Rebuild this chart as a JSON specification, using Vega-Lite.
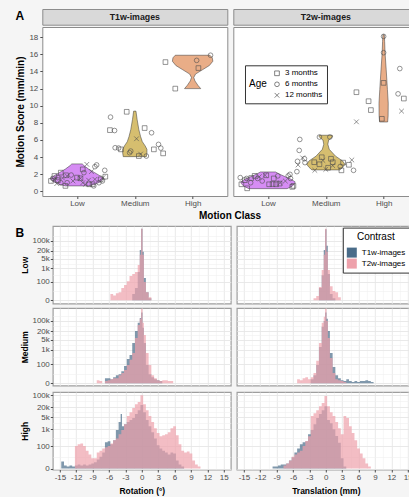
{
"$schema":"https://vega.github.io/schema/vega-lite/v6.json",
"background":"#f5f5f5",
"padding":{"left":12.3,"top":8,"right":-5,"bottom":0},
"config":{
 "font":"Liberation Sans",
 "view":{"stroke":"#8c8c8c","strokeWidth":1,"fill":"white"},
 "axis":{"labelFont":"Liberation Sans","titleFont":"Liberation Sans","labelFontSize":8,"labelColor":"#4d4d4d","tickColor":"#4d4d4d","tickSize":2.5,"labelPadding":1.5,"domain":false,"grid":false,"titleFontSize":10,"titleFontWeight":"bold","titleColor":"black","minExtent":0,"labelOverlap":false,"labelFlush":false},
 "title":{"font":"Liberation Sans","fontSize":12,"fontWeight":"bold","color":"black","anchor":"start","offset":0},
 "legend":{"labelFont":"Liberation Sans","titleFont":"Liberation Sans"}
},
"resolve":{"scale":{"color":"independent","shape":"independent"},"legend":{"color":"independent","shape":"independent"}},
"spacing":4,
"columns":1,
"datasets":{
"vio":[
{"p":"T1","k":"Low","y":0.63,"x":-0.2,"x2":0.2},{"p":"T1","k":"Low","y":0.8,"x":-0.3,"x2":0.3},{"p":"T1","k":"Low","y":1.1,"x":-0.4,"x2":0.4},{"p":"T1","k":"Low","y":1.5,"x":-0.46,"x2":0.46},{"p":"T1","k":"Low","y":1.8,"x":-0.4,"x2":0.4},{"p":"T1","k":"Low","y":2.2,"x":-0.3,"x2":0.3},{"p":"T1","k":"Low","y":2.6,"x":-0.2,"x2":0.2},{"p":"T1","k":"Low","y":3.0,"x":-0.12,"x2":0.12},{"p":"T1","k":"Low","y":3.2,"x":-0.09,"x2":0.09},
{"p":"T1","k":"Medium","y":4.05,"x":0.8,"x2":1.2},{"p":"T1","k":"Medium","y":4.5,"x":0.79,"x2":1.21},{"p":"T1","k":"Medium","y":4.9,"x":0.79,"x2":1.21},{"p":"T1","k":"Medium","y":5.3,"x":0.82,"x2":1.18},{"p":"T1","k":"Medium","y":5.8,"x":0.87,"x2":1.13},{"p":"T1","k":"Medium","y":6.4,"x":0.9,"x2":1.1},{"p":"T1","k":"Medium","y":7.2,"x":0.93,"x2":1.07},{"p":"T1","k":"Medium","y":8.4,"x":0.96,"x2":1.04},{"p":"T1","k":"Medium","y":9.37,"x":0.98,"x2":1.02},
{"p":"T1","k":"High","y":12.0,"x":1.86,"x2":2.14},{"p":"T1","k":"High","y":12.4,"x":1.91,"x2":2.09},{"p":"T1","k":"High","y":12.9,"x":1.96,"x2":2.04},{"p":"T1","k":"High","y":13.3,"x":1.98,"x2":2.02},{"p":"T1","k":"High","y":13.7,"x":1.95,"x2":2.05},{"p":"T1","k":"High","y":14.2,"x":1.83,"x2":2.17},{"p":"T1","k":"High","y":14.7,"x":1.71,"x2":2.29},{"p":"T1","k":"High","y":15.2,"x":1.65,"x2":2.35},{"p":"T1","k":"High","y":15.6,"x":1.66,"x2":2.34},{"p":"T1","k":"High","y":15.9,"x":1.7,"x2":2.3},
{"p":"T2","k":"Low","y":0.31,"x":-0.33,"x2":0.33},{"p":"T2","k":"Low","y":0.6,"x":-0.42,"x2":0.42},{"p":"T2","k":"Low","y":0.9,"x":-0.46,"x2":0.46},{"p":"T2","k":"Low","y":1.1,"x":-0.47,"x2":0.47},{"p":"T2","k":"Low","y":1.4,"x":-0.4,"x2":0.4},{"p":"T2","k":"Low","y":1.7,"x":-0.3,"x2":0.3},{"p":"T2","k":"Low","y":2.0,"x":-0.2,"x2":0.2},{"p":"T2","k":"Low","y":2.26,"x":-0.13,"x2":0.13},
{"p":"T2","k":"Medium","y":2.5,"x":0.76,"x2":1.24},{"p":"T2","k":"Medium","y":2.8,"x":0.71,"x2":1.29},{"p":"T2","k":"Medium","y":3.15,"x":0.67,"x2":1.33},{"p":"T2","k":"Medium","y":3.55,"x":0.71,"x2":1.29},{"p":"T2","k":"Medium","y":4.1,"x":0.83,"x2":1.17},{"p":"T2","k":"Medium","y":4.9,"x":0.94,"x2":1.06},{"p":"T2","k":"Medium","y":5.5,"x":0.965,"x2":1.035},{"p":"T2","k":"Medium","y":6.0,"x":0.95,"x2":1.05},{"p":"T2","k":"Medium","y":6.25,"x":0.9,"x2":1.1},{"p":"T2","k":"Medium","y":6.45,"x":0.88,"x2":1.12},{"p":"T2","k":"Medium","y":6.55,"x":0.89,"x2":1.11},
{"p":"T2","k":"High","y":8.1,"x":1.93,"x2":2.07},{"p":"T2","k":"High","y":8.8,"x":1.922,"x2":2.078},{"p":"T2","k":"High","y":10.3,"x":1.92,"x2":2.08},{"p":"T2","k":"High","y":11.9,"x":1.934,"x2":2.066},{"p":"T2","k":"High","y":14.2,"x":1.955,"x2":2.045},{"p":"T2","k":"High","y":16.2,"x":1.975,"x2":2.025},{"p":"T2","k":"High","y":17.5,"x":1.982,"x2":2.018},{"p":"T2","k":"High","y":18.3,"x":1.988,"x2":2.012}
],
"pts":[
{"p":"T1","x":-0.45,"y":1.21,"a":"3 months"},{"p":"T1","x":-0.39,"y":1.79,"a":"3 months"},{"p":"T1","x":-0.28,"y":2.18,"a":"3 months"},{"p":"T1","x":-0.19,"y":1.87,"a":"3 months"},{"p":"T1","x":-0.2,"y":0.63,"a":"3 months"},{"p":"T1","x":0.06,"y":1.52,"a":"3 months"},{"p":"T1","x":0.1,"y":2.56,"a":"3 months"},{"p":"T1","x":0.21,"y":0.82,"a":"3 months"},{"p":"T1","x":0.27,"y":0.82,"a":"3 months"},{"p":"T1","x":0.41,"y":1.4,"a":"3 months"},{"p":"T1","x":0.49,"y":1.71,"a":"3 months"},{"p":"T1","x":-0.33,"y":1.3,"a":"3 months"},{"p":"T1","x":0.0,"y":1.6,"a":"3 months"},
{"p":"T1","x":-0.28,"y":1.0,"a":"6 months"},{"p":"T1","x":-0.17,"y":1.0,"a":"6 months"},{"p":"T1","x":0.31,"y":2.88,"a":"6 months"},{"p":"T1","x":0.34,"y":3.08,"a":"6 months"},{"p":"T1","x":0.48,"y":2.45,"a":"6 months"},{"p":"T1","x":0.29,"y":0.63,"a":"6 months"},{"p":"T1","x":0.44,"y":1.21,"a":"6 months"},{"p":"T1","x":-0.33,"y":1.6,"a":"6 months"},{"p":"T1","x":0.12,"y":2.18,"a":"6 months"},{"p":"T1","x":-0.42,"y":1.5,"a":"6 months"},{"p":"T1","x":0.38,"y":1.0,"a":"6 months"},{"p":"T1","x":-0.1,"y":1.9,"a":"6 months"},
{"p":"T1","x":-0.39,"y":1.33,"a":"12 months"},{"p":"T1","x":-0.07,"y":1.21,"a":"12 months"},{"p":"T1","x":0.17,"y":3.15,"a":"12 months"},{"p":"T1","x":0.15,"y":0.82,"a":"12 months"},{"p":"T1","x":0.31,"y":1.4,"a":"12 months"},{"p":"T1","x":-0.17,"y":1.79,"a":"12 months"},{"p":"T1","x":0.06,"y":1.52,"a":"12 months"},{"p":"T1","x":0.25,"y":2.3,"a":"12 months"},{"p":"T1","x":-0.25,"y":1.55,"a":"12 months"},{"p":"T1","x":0.45,"y":1.6,"a":"12 months"},{"p":"T1","x":0.1,"y":1.0,"a":"12 months"},{"p":"T1","x":-0.35,"y":0.9,"a":"12 months"},{"p":"T1","x":0.2,"y":1.3,"a":"12 months"},
{"p":"T1","x":0.58,"y":8.67,"a":"6 months"},{"p":"T1","x":0.57,"y":7.15,"a":"3 months"},{"p":"T1","x":0.65,"y":7.1,"a":"6 months"},{"p":"T1","x":0.86,"y":9.29,"a":"3 months"},{"p":"T1","x":1.17,"y":7.39,"a":"3 months"},{"p":"T1","x":1.29,"y":6.84,"a":"6 months"},{"p":"T1","x":1.03,"y":6.14,"a":"12 months"},{"p":"T1","x":0.66,"y":5.09,"a":"6 months"},{"p":"T1","x":0.72,"y":5.05,"a":"6 months"},{"p":"T1","x":0.76,"y":4.9,"a":"3 months"},{"p":"T1","x":0.91,"y":4.51,"a":"6 months"},{"p":"T1","x":0.93,"y":4.7,"a":"6 months"},{"p":"T1","x":1.07,"y":4.12,"a":"3 months"},{"p":"T1","x":1.1,"y":4.35,"a":"12 months"},{"p":"T1","x":1.2,"y":4.12,"a":"6 months"},{"p":"T1","x":1.33,"y":4.9,"a":"3 months"},{"p":"T1","x":1.41,"y":5.48,"a":"6 months"},{"p":"T1","x":1.45,"y":5.05,"a":"6 months"},{"p":"T1","x":1.49,"y":4.43,"a":"3 months"},
{"p":"T1","x":1.53,"y":15.1,"a":"3 months"},{"p":"T1","x":1.7,"y":12.0,"a":"3 months"},{"p":"T1","x":2.07,"y":15.3,"a":"6 months"},{"p":"T1","x":2.1,"y":14.4,"a":"3 months"},{"p":"T1","x":2.31,"y":15.9,"a":"6 months"},
{"p":"T2","x":-0.46,"y":0.82,"a":"3 months"},{"p":"T2","x":-0.36,"y":0.35,"a":"3 months"},{"p":"T2","x":-0.48,"y":1.6,"a":"6 months"},{"p":"T2","x":-0.37,"y":1.5,"a":"6 months"},{"p":"T2","x":-0.29,"y":1.55,"a":"3 months"},{"p":"T2","x":-0.23,"y":1.8,"a":"3 months"},{"p":"T2","x":-0.05,"y":1.87,"a":"12 months"},{"p":"T2","x":-0.18,"y":1.5,"a":"6 months"},{"p":"T2","x":0.02,"y":0.82,"a":"3 months"},{"p":"T2","x":0.08,"y":0.85,"a":"3 months"},{"p":"T2","x":0.14,"y":0.82,"a":"3 months"},{"p":"T2","x":0.2,"y":0.9,"a":"3 months"},{"p":"T2","x":0.17,"y":1.8,"a":"6 months"},{"p":"T2","x":-0.03,"y":1.87,"a":"3 months"},{"p":"T2","x":0.44,"y":0.63,"a":"3 months"},{"p":"T2","x":0.42,"y":0.52,"a":"3 months"},{"p":"T2","x":0.35,"y":1.8,"a":"6 months"},{"p":"T2","x":0.21,"y":1.0,"a":"12 months"},{"p":"T2","x":0.39,"y":1.5,"a":"6 months"},{"p":"T2","x":0.38,"y":1.98,"a":"6 months"},{"p":"T2","x":-0.15,"y":1.7,"a":"12 months"},{"p":"T2","x":-0.4,"y":1.3,"a":"3 months"},{"p":"T2","x":-0.1,"y":1.2,"a":"6 months"},{"p":"T2","x":0.3,"y":1.2,"a":"12 months"},{"p":"T2","x":0.1,"y":1.5,"a":"3 months"},{"p":"T2","x":-0.3,"y":1.0,"a":"6 months"},
{"p":"T2","x":0.55,"y":6.06,"a":"6 months"},{"p":"T2","x":0.54,"y":4.78,"a":"6 months"},{"p":"T2","x":0.63,"y":3.81,"a":"6 months"},{"p":"T2","x":0.51,"y":3.5,"a":"6 months"},{"p":"T2","x":0.52,"y":3.08,"a":"12 months"},{"p":"T2","x":0.5,"y":2.3,"a":"6 months"},{"p":"T2","x":0.89,"y":6.34,"a":"6 months"},{"p":"T2","x":1.07,"y":6.34,"a":"6 months"},{"p":"T2","x":1.45,"y":3.66,"a":"12 months"},{"p":"T2","x":1.27,"y":2.45,"a":"3 months"},{"p":"T2","x":1.48,"y":2.45,"a":"6 months"},{"p":"T2","x":0.81,"y":2.45,"a":"12 months"},{"p":"T2","x":0.93,"y":3.98,"a":"3 months"},{"p":"T2","x":0.89,"y":3.16,"a":"3 months"},{"p":"T2","x":0.95,"y":3.6,"a":"12 months"},{"p":"T2","x":1.09,"y":3.8,"a":"3 months"},{"p":"T2","x":1.12,"y":3.0,"a":"12 months"},{"p":"T2","x":1.04,"y":2.75,"a":"3 months"},{"p":"T2","x":1.0,"y":2.56,"a":"12 months"},{"p":"T2","x":0.8,"y":3.4,"a":"3 months"},{"p":"T2","x":1.12,"y":3.4,"a":"3 months"},{"p":"T2","x":1.3,"y":3.35,"a":"3 months"},{"p":"T2","x":0.64,"y":3.35,"a":"6 months"},{"p":"T2","x":0.6,"y":3.9,"a":"12 months"},{"p":"T2","x":1.25,"y":2.9,"a":"6 months"},{"p":"T2","x":1.4,"y":3.1,"a":"3 months"},
{"p":"T2","x":2.0,"y":16.2,"a":"6 months"},{"p":"T2","x":2.0,"y":12.67,"a":"3 months"},{"p":"T2","x":1.97,"y":8.47,"a":"3 months"},{"p":"T2","x":1.53,"y":11.58,"a":"3 months"},{"p":"T2","x":1.74,"y":10.53,"a":"3 months"},{"p":"T2","x":1.78,"y":9.49,"a":"3 months"},{"p":"T2","x":1.53,"y":8.12,"a":"12 months"},{"p":"T2","x":2.28,"y":14.34,"a":"6 months"},{"p":"T2","x":2.25,"y":11.39,"a":"6 months"},{"p":"T2","x":2.35,"y":10.84,"a":"3 months"},{"p":"T2","x":2.31,"y":9.37,"a":"12 months"},{"p":"T2","x":2.0,"y":18.1,"a":"6 months"}
],
"nlab":[
{"p":"T1","x":0,"t":"n=38"},{"p":"T1","x":1,"t":"n=19"},{"p":"T1","x":2,"t":"n=5"},
{"p":"T2","x":0,"t":"n=26"},{"p":"T2","x":1,"t":"n=26"},{"p":"T2","x":2,"t":"n=12"}
],
"LR":[
{"c":"T1w-images","x":-2,"n":0},{"c":"T1w-images","x":-1.5,"n":9},{"c":"T1w-images","x":-1,"n":33},{"c":"T1w-images","x":-0.5,"n":550},{"c":"T1w-images","x":-0.25,"n":22000},{"c":"T1w-images","x":0,"n":750000},{"c":"T1w-images","x":0.25,"n":16000},{"c":"T1w-images","x":0.5,"n":200},{"c":"T1w-images","x":1,"n":14},{"c":"T1w-images","x":1.5,"n":2},{"c":"T1w-images","x":2,"n":0},
{"c":"T2w-images","x":-6,"n":0},{"c":"T2w-images","x":-5.5,"n":9},{"c":"T2w-images","x":-5,"n":6},{"c":"T2w-images","x":-4.5,"n":11},{"c":"T2w-images","x":-4,"n":14},{"c":"T2w-images","x":-3.5,"n":33},{"c":"T2w-images","x":-3,"n":57},{"c":"T2w-images","x":-2.5,"n":115},{"c":"T2w-images","x":-2,"n":276},{"c":"T2w-images","x":-1.5,"n":390},{"c":"T2w-images","x":-1,"n":546},{"c":"T2w-images","x":-0.5,"n":1800},{"c":"T2w-images","x":-0.25,"n":10000},{"c":"T2w-images","x":0,"n":750000},{"c":"T2w-images","x":0.25,"n":10000},{"c":"T2w-images","x":0.5,"n":98},{"c":"T2w-images","x":1,"n":14},{"c":"T2w-images","x":1.5,"n":3},{"c":"T2w-images","x":2,"n":0}
],
"LT":[
{"c":"T1w-images","x":-1.5,"n":0},{"c":"T1w-images","x":-1,"n":33},{"c":"T1w-images","x":-0.5,"n":320},{"c":"T1w-images","x":-0.25,"n":22000},{"c":"T1w-images","x":0,"n":700000},{"c":"T1w-images","x":0.25,"n":44000},{"c":"T1w-images","x":0.5,"n":390},{"c":"T1w-images","x":1,"n":9},{"c":"T1w-images","x":1.5,"n":2},{"c":"T1w-images","x":2,"n":0},
{"c":"T2w-images","x":-2.5,"n":0},{"c":"T2w-images","x":-2,"n":2},{"c":"T2w-images","x":-1.5,"n":5},{"c":"T2w-images","x":-1,"n":40},{"c":"T2w-images","x":-0.5,"n":770},{"c":"T2w-images","x":-0.25,"n":10000},{"c":"T2w-images","x":0,"n":750000},{"c":"T2w-images","x":0.25,"n":16000},{"c":"T2w-images","x":0.5,"n":770},{"c":"T2w-images","x":1,"n":47},{"c":"T2w-images","x":1.5,"n":18},{"c":"T2w-images","x":2,"n":14},{"c":"T2w-images","x":2.5,"n":3},{"c":"T2w-images","x":3,"n":0}
],
"MR":[
{"c":"T1w-images","x":-7,"n":0},{"c":"T1w-images","x":-6.5,"n":6},{"c":"T1w-images","x":-6,"n":6},{"c":"T1w-images","x":-5.5,"n":4.5},{"c":"T1w-images","x":-5,"n":8},{"c":"T1w-images","x":-4.5,"n":13},{"c":"T1w-images","x":-4,"n":16},{"c":"T1w-images","x":-3.5,"n":29},{"c":"T1w-images","x":-3,"n":72},{"c":"T1w-images","x":-2.5,"n":227},{"c":"T1w-images","x":-2,"n":435},{"c":"T1w-images","x":-1.5,"n":3000},{"c":"T1w-images","x":-1,"n":20000},{"c":"T1w-images","x":-0.5,"n":73000},{"c":"T1w-images","x":-0.25,"n":160000},{"c":"T1w-images","x":0,"n":375000},{"c":"T1w-images","x":0.25,"n":33000},{"c":"T1w-images","x":0.5,"n":3000},{"c":"T1w-images","x":1,"n":85},{"c":"T1w-images","x":1.5,"n":16},{"c":"T1w-images","x":2,"n":8},{"c":"T1w-images","x":2.5,"n":4.5},{"c":"T1w-images","x":3,"n":3},{"c":"T1w-images","x":3.5,"n":2},{"c":"T1w-images","x":4,"n":0},
{"c":"T2w-images","x":-8.5,"n":0},{"c":"T2w-images","x":-8,"n":3},{"c":"T2w-images","x":-7.5,"n":2},{"c":"T2w-images","x":-7,"n":0},{"c":"T2w-images","x":-6.5,"n":2},{"c":"T2w-images","x":-6,"n":3},{"c":"T2w-images","x":-5.5,"n":4.5},{"c":"T2w-images","x":-5,"n":6},{"c":"T2w-images","x":-4.5,"n":6},{"c":"T2w-images","x":-4,"n":13},{"c":"T2w-images","x":-3.5,"n":20},{"c":"T2w-images","x":-3,"n":35},{"c":"T2w-images","x":-2.5,"n":85},{"c":"T2w-images","x":-2,"n":200},{"c":"T2w-images","x":-1.5,"n":600},{"c":"T2w-images","x":-1,"n":6500},{"c":"T2w-images","x":-0.5,"n":53000},{"c":"T2w-images","x":-0.25,"n":139000},{"c":"T2w-images","x":0,"n":690000},{"c":"T2w-images","x":0.25,"n":73000},{"c":"T2w-images","x":0.5,"n":10800},{"c":"T2w-images","x":1,"n":600},{"c":"T2w-images","x":1.5,"n":85},{"c":"T2w-images","x":2,"n":13},{"c":"T2w-images","x":2.5,"n":6},{"c":"T2w-images","x":3,"n":3},{"c":"T2w-images","x":3.5,"n":2},{"c":"T2w-images","x":4,"n":3},{"c":"T2w-images","x":4.5,"n":3},{"c":"T2w-images","x":5,"n":2},{"c":"T2w-images","x":5.5,"n":2},{"c":"T2w-images","x":6,"n":0}
],
"MT":[
{"c":"T1w-images","x":-3,"n":0},{"c":"T1w-images","x":-2.5,"n":4.5},{"c":"T1w-images","x":-2,"n":13},{"c":"T1w-images","x":-1.5,"n":85},{"c":"T1w-images","x":-1,"n":1580},{"c":"T1w-images","x":-0.5,"n":39000},{"c":"T1w-images","x":-0.25,"n":100000},{"c":"T1w-images","x":0,"n":375000},{"c":"T1w-images","x":0.25,"n":139000},{"c":"T1w-images","x":0.5,"n":20000},{"c":"T1w-images","x":1,"n":600},{"c":"T1w-images","x":1.5,"n":60},{"c":"T1w-images","x":2,"n":13},{"c":"T1w-images","x":2.5,"n":6},{"c":"T1w-images","x":3,"n":3},{"c":"T1w-images","x":3.5,"n":2},{"c":"T1w-images","x":4,"n":4.5},{"c":"T1w-images","x":4.5,"n":2},{"c":"T1w-images","x":5,"n":1},{"c":"T1w-images","x":5.5,"n":2},{"c":"T1w-images","x":6,"n":1},{"c":"T1w-images","x":6.5,"n":2},{"c":"T1w-images","x":7,"n":2},{"c":"T1w-images","x":7.5,"n":3},{"c":"T1w-images","x":8,"n":2},{"c":"T1w-images","x":8.5,"n":1},{"c":"T1w-images","x":9,"n":0},
{"c":"T2w-images","x":-5.5,"n":0},{"c":"T2w-images","x":-5,"n":4.5},{"c":"T2w-images","x":-4.5,"n":3},{"c":"T2w-images","x":-4,"n":6},{"c":"T2w-images","x":-3.5,"n":8},{"c":"T2w-images","x":-3,"n":4.5},{"c":"T2w-images","x":-2.5,"n":8},{"c":"T2w-images","x":-2,"n":20},{"c":"T2w-images","x":-1.5,"n":170},{"c":"T2w-images","x":-1,"n":3000},{"c":"T2w-images","x":-0.5,"n":73000},{"c":"T2w-images","x":-0.25,"n":190000},{"c":"T2w-images","x":0,"n":690000},{"c":"T2w-images","x":0.25,"n":100000},{"c":"T2w-images","x":0.5,"n":6500},{"c":"T2w-images","x":1,"n":270},{"c":"T2w-images","x":1.5,"n":20},{"c":"T2w-images","x":2,"n":4.5},{"c":"T2w-images","x":2.5,"n":3},{"c":"T2w-images","x":3,"n":2},{"c":"T2w-images","x":3.5,"n":1},{"c":"T2w-images","x":4,"n":0}
],
"HR":[
{"c":"T1w-images","x":-15,"n":0},{"c":"T1w-images","x":-14.5,"n":8},{"c":"T1w-images","x":-14,"n":2.5},{"c":"T1w-images","x":-13.5,"n":1.5},{"c":"T1w-images","x":-13,"n":2.5},{"c":"T1w-images","x":-12.5,"n":1.5},{"c":"T1w-images","x":-12,"n":2.5},{"c":"T1w-images","x":-11.5,"n":3.6},{"c":"T1w-images","x":-11,"n":2.5},{"c":"T1w-images","x":-10.5,"n":3.6},{"c":"T1w-images","x":-10,"n":2.5},{"c":"T1w-images","x":-9.5,"n":3.6},{"c":"T1w-images","x":-9,"n":5},{"c":"T1w-images","x":-8.5,"n":6.5},{"c":"T1w-images","x":-8,"n":12},{"c":"T1w-images","x":-7.5,"n":20},{"c":"T1w-images","x":-7,"n":39},{"c":"T1w-images","x":-6.5,"n":170},{"c":"T1w-images","x":-6,"n":195},{"c":"T1w-images","x":-5.5,"n":127},{"c":"T1w-images","x":-5,"n":222},{"c":"T1w-images","x":-4.5,"n":900},{"c":"T1w-images","x":-4,"n":2700},{"c":"T1w-images","x":-3.75,"n":8000},{"c":"T1w-images","x":-3.5,"n":1500},{"c":"T1w-images","x":-3,"n":2000},{"c":"T1w-images","x":-2.5,"n":2700},{"c":"T1w-images","x":-2,"n":3500},{"c":"T1w-images","x":-1.5,"n":4600},{"c":"T1w-images","x":-1,"n":8000},{"c":"T1w-images","x":-0.5,"n":13500},{"c":"T1w-images","x":0,"n":27000},{"c":"T1w-images","x":0.5,"n":10000},{"c":"T1w-images","x":1,"n":3500},{"c":"T1w-images","x":1.5,"n":1500},{"c":"T1w-images","x":2,"n":675},{"c":"T1w-images","x":2.5,"n":290},{"c":"T1w-images","x":3,"n":110},{"c":"T1w-images","x":3.5,"n":71},{"c":"T1w-images","x":4,"n":50},{"c":"T1w-images","x":4.5,"n":39},{"c":"T1w-images","x":5,"n":28},{"c":"T1w-images","x":5.5,"n":39},{"c":"T1w-images","x":6,"n":33},{"c":"T1w-images","x":6.5,"n":10},{"c":"T1w-images","x":7,"n":3.6},{"c":"T1w-images","x":7.5,"n":1.5},{"c":"T1w-images","x":8,"n":0},
{"c":"T2w-images","x":-12.5,"n":0},{"c":"T2w-images","x":-12,"n":100},{"c":"T2w-images","x":-11.5,"n":127},{"c":"T2w-images","x":-11,"n":145},{"c":"T2w-images","x":-10.5,"n":100},{"c":"T2w-images","x":-10,"n":50},{"c":"T2w-images","x":-9.5,"n":28},{"c":"T2w-images","x":-9,"n":15},{"c":"T2w-images","x":-8.5,"n":15},{"c":"T2w-images","x":-8,"n":39},{"c":"T2w-images","x":-7.5,"n":50},{"c":"T2w-images","x":-7,"n":71},{"c":"T2w-images","x":-6.5,"n":85},{"c":"T2w-images","x":-6,"n":100},{"c":"T2w-images","x":-5.5,"n":145},{"c":"T2w-images","x":-5,"n":222},{"c":"T2w-images","x":-4.5,"n":290},{"c":"T2w-images","x":-4,"n":510},{"c":"T2w-images","x":-3.5,"n":900},{"c":"T2w-images","x":-3,"n":2000},{"c":"T2w-images","x":-2.5,"n":6000},{"c":"T2w-images","x":-2,"n":10000},{"c":"T2w-images","x":-1.5,"n":17800},{"c":"T2w-images","x":-1,"n":30000},{"c":"T2w-images","x":-0.5,"n":40000},{"c":"T2w-images","x":0,"n":100000},{"c":"T2w-images","x":0.5,"n":30000},{"c":"T2w-images","x":1,"n":13500},{"c":"T2w-images","x":1.5,"n":6000},{"c":"T2w-images","x":2,"n":2700},{"c":"T2w-images","x":2.5,"n":1160},{"c":"T2w-images","x":3,"n":600},{"c":"T2w-images","x":3.5,"n":386},{"c":"T2w-images","x":4,"n":440},{"c":"T2w-images","x":4.5,"n":510},{"c":"T2w-images","x":5,"n":675},{"c":"T2w-images","x":5.5,"n":1160},{"c":"T2w-images","x":6,"n":1500},{"c":"T2w-images","x":6.5,"n":440},{"c":"T2w-images","x":7,"n":127},{"c":"T2w-images","x":7.5,"n":50},{"c":"T2w-images","x":8,"n":39},{"c":"T2w-images","x":8.5,"n":45},{"c":"T2w-images","x":9,"n":33},{"c":"T2w-images","x":9.5,"n":10},{"c":"T2w-images","x":10,"n":3.6},{"c":"T2w-images","x":10.5,"n":1.5},{"c":"T2w-images","x":11,"n":0}
],
"HT":[
{"c":"T1w-images","x":-10,"n":0},{"c":"T1w-images","x":-9.5,"n":1.5},{"c":"T1w-images","x":-9,"n":1.5},{"c":"T1w-images","x":-8.5,"n":2.5},{"c":"T1w-images","x":-8,"n":3.6},{"c":"T1w-images","x":-7.5,"n":3.6},{"c":"T1w-images","x":-7,"n":5},{"c":"T1w-images","x":-6.5,"n":10},{"c":"T1w-images","x":-6,"n":18},{"c":"T1w-images","x":-5.5,"n":39},{"c":"T1w-images","x":-5,"n":71},{"c":"T1w-images","x":-4.5,"n":127},{"c":"T1w-images","x":-4,"n":170},{"c":"T1w-images","x":-3.5,"n":195},{"c":"T1w-images","x":-3,"n":510},{"c":"T1w-images","x":-2.5,"n":900},{"c":"T1w-images","x":-2,"n":2000},{"c":"T1w-images","x":-1.5,"n":4600},{"c":"T1w-images","x":-1,"n":8000},{"c":"T1w-images","x":-0.5,"n":13500},{"c":"T1w-images","x":0,"n":23000},{"c":"T1w-images","x":0.5,"n":3500},{"c":"T1w-images","x":1,"n":2300},{"c":"T1w-images","x":1.5,"n":1000},{"c":"T1w-images","x":2,"n":400},{"c":"T1w-images","x":2.5,"n":160},{"c":"T1w-images","x":3,"n":15},{"c":"T1w-images","x":3.5,"n":1.5},{"c":"T1w-images","x":4,"n":0},
{"c":"T2w-images","x":-8,"n":0},{"c":"T2w-images","x":-7.5,"n":2.5},{"c":"T2w-images","x":-7,"n":5},{"c":"T2w-images","x":-6.5,"n":10},{"c":"T2w-images","x":-6,"n":20},{"c":"T2w-images","x":-5.5,"n":28},{"c":"T2w-images","x":-5,"n":39},{"c":"T2w-images","x":-4.5,"n":50},{"c":"T2w-images","x":-4,"n":100},{"c":"T2w-images","x":-3.5,"n":200},{"c":"T2w-images","x":-3,"n":386},{"c":"T2w-images","x":-2.5,"n":6000},{"c":"T2w-images","x":-2,"n":9000},{"c":"T2w-images","x":-1.5,"n":13500},{"c":"T2w-images","x":-1,"n":23000},{"c":"T2w-images","x":-0.5,"n":35000},{"c":"T2w-images","x":0,"n":91000},{"c":"T2w-images","x":0.5,"n":23000},{"c":"T2w-images","x":1,"n":10000},{"c":"T2w-images","x":1.5,"n":6000},{"c":"T2w-images","x":2,"n":2700},{"c":"T2w-images","x":2.5,"n":1160},{"c":"T2w-images","x":3,"n":510},{"c":"T2w-images","x":3.5,"n":6000},{"c":"T2w-images","x":4,"n":4600},{"c":"T2w-images","x":4.5,"n":1500},{"c":"T2w-images","x":5,"n":600},{"c":"T2w-images","x":5.5,"n":222},{"c":"T2w-images","x":6,"n":71},{"c":"T2w-images","x":6.5,"n":33},{"c":"T2w-images","x":7,"n":15},{"c":"T2w-images","x":7.5,"n":5},{"c":"T2w-images","x":8,"n":1.5},{"c":"T2w-images","x":8.5,"n":0}
]
},
"concat":[
{
 "title":{"text":"A","baseline":"top","dx":2.7,"offset":-14.5},
 "spacing":0,
 "resolve":{"scale":{"color":"independent","shape":"independent"},"legend":{"color":"independent","shape":"independent"}},
 "hconcat":[
 {"width":1,"height":1,"data":{"values":[]},"mark":"point","view":{"stroke":"transparent","fill":"transparent"}},
 {
  "title":{"text":"Motion Class","orient":"bottom","anchor":"middle","fontSize":10,"offset":3,"dx":13},
  "spacing":4,
  "resolve":{"scale":{"color":"independent","shape":"independent"},"legend":{"color":"independent","shape":"independent"}},
  "hconcat":[
   {"spacing":0,
    "resolve":{"scale":{"color":"independent","shape":"independent"},"legend":{"color":"independent","shape":"independent"}},
    "vconcat":[
     {"width":185,"height":15.7,"data":{"values":[{"s":"T1w-images"}]},"mark":{"type":"text","fontSize":8.8,"fontWeight":"bold","baseline":"middle","color":"#1a1a1a"},"encoding":{"text":{"field":"s"}},"view":{"fill":"#d9d9d9","stroke":"#8c8c8c"}},
     {"width":185,"height":169,
      "encoding":{
       "x":{"field":"x","type":"quantitative","scale":{"domain":[-0.6,2.6],"nice":false,"zero":false},"axis":{"values":[0,1,2],"labelExpr":"['Low','Medium','High'][datum.value]","title":null,"labelPadding":1}},
       "y":{"field":"y","type":"quantitative","scale":{"domain":[-0.55,19.2],"nice":false,"zero":false},"axis":{"values":[0,2,4,6,8,10,12,14,16,18],"title":"Motion Score (mm/min)","titlePadding":3,"labelPadding":2}}
      },
      "layer":[
       {"data":{"name":"vio"},"transform":[{"filter":"datum.p=='T1'"}],"mark":{"type":"area","orient":"horizontal","stroke":"#333","strokeWidth":0.5},
        "encoding":{"x2":{"field":"x2"},"color":{"field":"k","type":"nominal","scale":{"domain":["Low","Medium","High"],"range":["#d68cf4","#d6be6f","#e9ad87"]},"legend":null}}},
       {"data":{"name":"pts"},"transform":[{"filter":"datum.p=='T1'"}],"mark":{"type":"point","filled":false,"color":"#4d4d4d","strokeWidth":0.6,"size":22,"opacity":1},
        "encoding":{"shape":{"field":"a","type":"nominal","scale":{"domain":["3 months","6 months","12 months"],"range":["square","circle","M-1,-1L1,1M-1,1L1,-1"]},"legend":null}}},
       {"data":{"name":"nlab"},"transform":[{"filter":"datum.p=='T1'"}],"mark":{"type":"text","fontWeight":"bold","fontSize":9,"dx":17,"baseline":"middle","color":"black"},
        "encoding":{"y":{"datum":18.3},"text":{"field":"t"}}}
      ]}
    ]},
   {"spacing":0,
    "resolve":{"scale":{"color":"independent","shape":"independent"},"legend":{"color":"independent","shape":"independent"}},
    "vconcat":[
     {"width":185,"height":15.7,"data":{"values":[{"s":"T2w-images"}]},"mark":{"type":"text","fontSize":8.8,"fontWeight":"bold","baseline":"middle","color":"#1a1a1a"},"encoding":{"text":{"field":"s"}},"view":{"fill":"#d9d9d9","stroke":"#8c8c8c"}},
     {"width":185,"height":169,
      "encoding":{
       "x":{"field":"x","type":"quantitative","scale":{"domain":[-0.6,2.6],"nice":false,"zero":false},"axis":{"values":[0,1,2],"labelExpr":"['Low','Medium','High'][datum.value]","title":null,"labelPadding":1}},
       "y":{"field":"y","type":"quantitative","scale":{"domain":[-0.55,19.2],"nice":false,"zero":false},"axis":null}
      },
      "layer":[
       {"data":{"name":"vio"},"transform":[{"filter":"datum.p=='T2'"}],"mark":{"type":"area","orient":"horizontal","stroke":"#333","strokeWidth":0.5},
        "encoding":{"x2":{"field":"x2"},"color":{"field":"k","type":"nominal","scale":{"domain":["Low","Medium","High"],"range":["#d68cf4","#d6be6f","#e9ad87"]},"legend":null}}},
       {"data":{"name":"pts"},"transform":[{"filter":"datum.p=='T2'"}],"mark":{"type":"point","filled":false,"color":"#4d4d4d","strokeWidth":0.6,"size":22,"opacity":1},
        "encoding":{"shape":{"field":"a","type":"nominal","scale":{"domain":["3 months","6 months","12 months"],"range":["square","circle","M-1,-1L1,1M-1,1L1,-1"]},
         "legend":{"orient":"none","legendX":11.7,"legendY":38.3,"title":"Age","titleOrient":"left","titleAnchor":"middle","titleBaseline":"middle","titleFontSize":10,"titleFontWeight":"normal","titleColor":"black","titlePadding":6,"labelFontSize":8,"labelColor":"black","labelOffset":4,"strokeColor":"#333","fillColor":"white","padding":4,"rowPadding":3,"symbolSize":22,"symbolStrokeWidth":0.7}}}},
       {"data":{"name":"nlab"},"transform":[{"filter":"datum.p=='T2'"}],"mark":{"type":"text","fontWeight":"bold","fontSize":9,"dx":17,"baseline":"middle","color":"black"},
        "encoding":{"y":{"datum":18.3},"text":{"field":"t"}}}
      ]}
    ]}
  ]
 }]
},
{
 "title":{"text":"B","baseline":"top","dx":2.7,"offset":-14.3},
 "spacing":4.5,
 "resolve":{"scale":{"color":"independent","shape":"independent"},"legend":{"color":"independent","shape":"independent"}},
 "hconcat":[
 {"width":1,"height":1,"data":{"values":[]},"mark":"point","view":{"stroke":"transparent","fill":"transparent"}},
 {
 "spacing":2,
 "resolve":{"scale":{"color":"independent"},"legend":{"color":"independent"}},
 "vconcat":[
  {"spacing":4,"resolve":{"scale":{"color":"independent"},"legend":{"color":"independent"}},
   "hconcat":[
    {"width":178,"height":77.5,"data":{"name":"LR"},"mark":{"type":"area","interpolate":"step","opacity":0.7},"view":{"stroke":"#9e9e9e","strokeWidth":1.2},
     "encoding":{
      "x":{"field":"x","type":"quantitative","scale":{"domain":[-16.3,16.3],"nice":false,"zero":false},"axis":{"values":[-15,-13.5,-12,-10.5,-9,-7.5,-6,-4.5,-3,-1.5,0,1.5,3,4.5,6,7.5,9,10.5,12,13.5,15],"labels":false,"ticks":false,"title":null,"grid":true,"gridColor":{"condition":{"test":"datum.value % 3 == 0","value":"#e6e6e6"},"value":"#f0f0f0"},"gridWidth":{"condition":{"test":"datum.value % 3 == 0","value":0.9},"value":0.6}}},
      "y":{"field":"n","type":"quantitative","stack":null,"scale":{"type":"symlog","constant":5,"domain":[-3.7,1200000],"nice":false,"zero":false},"axis":{"values":[0,17.9,100,320,1000,2237,5000,10000,20000,44760,100000,223000],"labelExpr":"datum.value==0?'0':datum.value==100?'100':datum.value==1000?'1k':datum.value==5000?'5k':datum.value==20000?'20k':datum.value==100000?'100k':''","tickOpacity":{"condition":{"test":"indexof([0,100,1000,5000,20000,100000], datum.value) >= 0","value":1},"value":0},"title":"Low","titleFontSize":8.5,"titlePadding":2.5,"labelPadding":1,"grid":true,"gridColor":{"condition":{"test":"indexof([0,100,1000,5000,20000,100000], datum.value) >= 0","value":"#e6e6e6"},"value":"#f0f0f0"},"gridWidth":{"condition":{"test":"indexof([0,100,1000,5000,20000,100000], datum.value) >= 0","value":0.9},"value":0.6}}},
      "y2":{"datum":0},
      "color":{"field":"c","type":"nominal","scale":{"domain":["T1w-images","T2w-images"],"range":["#4a6c89","#eea1ab"]},"legend":null}
     }},
    {"width":178,"height":77.5,"data":{"name":"LT"},"mark":{"type":"area","interpolate":"step","opacity":0.7},"view":{"stroke":"#9e9e9e","strokeWidth":1.2},
     "encoding":{
      "x":{"field":"x","type":"quantitative","scale":{"domain":[-16.3,16.3],"nice":false,"zero":false},"axis":{"values":[-15,-13.5,-12,-10.5,-9,-7.5,-6,-4.5,-3,-1.5,0,1.5,3,4.5,6,7.5,9,10.5,12,13.5,15],"labels":false,"ticks":false,"title":null,"grid":true,"gridColor":{"condition":{"test":"datum.value % 3 == 0","value":"#e6e6e6"},"value":"#f0f0f0"},"gridWidth":{"condition":{"test":"datum.value % 3 == 0","value":0.9},"value":0.6}}},
      "y":{"field":"n","type":"quantitative","stack":null,"scale":{"type":"symlog","constant":5,"domain":[-3.7,1200000],"nice":false,"zero":false},"axis":{"values":[0,17.9,100,320,1000,2237,5000,10000,20000,44760,100000,223000],"labels":false,"ticks":false,"title":null,"grid":true,"gridColor":{"condition":{"test":"indexof([0,100,1000,5000,20000,100000], datum.value) >= 0","value":"#e6e6e6"},"value":"#f0f0f0"},"gridWidth":{"condition":{"test":"indexof([0,100,1000,5000,20000,100000], datum.value) >= 0","value":0.9},"value":0.6}}},
      "y2":{"datum":0},
      "color":{"field":"c","type":"nominal","scale":{"domain":["T1w-images","T2w-images"],"range":["#4a6c89","#eea1ab"]},
       "legend":{"orient":"none","legendX":106,"legendY":1.6,"title":"Contrast","titleFontSize":10,"titleFontWeight":"normal","titleColor":"black","titleAnchor":"middle","titlePadding":6,"labelFontSize":8,"labelColor":"black","labelOffset":5,"symbolType":"square","symbolSize":100,"symbolOpacity":1,"symbolStrokeWidth":0,"strokeColor":"#333","fillColor":"white","padding":4,"rowPadding":1}}
     }}
   ]},
  {"spacing":4,"resolve":{"scale":{"color":"independent"},"legend":{"color":"independent"}},
   "hconcat":[
    {"width":178,"height":77.5,"data":{"name":"MR"},"mark":{"type":"area","interpolate":"step","opacity":0.7},"view":{"stroke":"#9e9e9e","strokeWidth":1.2},
     "encoding":{
      "x":{"field":"x","type":"quantitative","scale":{"domain":[-16.3,16.3],"nice":false,"zero":false},"axis":{"values":[-15,-13.5,-12,-10.5,-9,-7.5,-6,-4.5,-3,-1.5,0,1.5,3,4.5,6,7.5,9,10.5,12,13.5,15],"labels":false,"ticks":false,"title":null,"grid":true,"gridColor":{"condition":{"test":"datum.value % 3 == 0","value":"#e6e6e6"},"value":"#f0f0f0"},"gridWidth":{"condition":{"test":"datum.value % 3 == 0","value":0.9},"value":0.6}}},
      "y":{"field":"n","type":"quantitative","stack":null,"scale":{"type":"symlog","constant":5,"domain":[-2.2,775000],"nice":false,"zero":false},"axis":{"values":[0,17.9,100,320,1000,2237,5000,10000,20000,44760,100000,223000],"labelExpr":"datum.value==0?'0':datum.value==100?'100':datum.value==1000?'1k':datum.value==5000?'5k':datum.value==20000?'20k':datum.value==100000?'100k':''","tickOpacity":{"condition":{"test":"indexof([0,100,1000,5000,20000,100000], datum.value) >= 0","value":1},"value":0},"title":"Medium","titleFontSize":8.5,"titlePadding":2.5,"labelPadding":1,"grid":true,"gridColor":{"condition":{"test":"indexof([0,100,1000,5000,20000,100000], datum.value) >= 0","value":"#e6e6e6"},"value":"#f0f0f0"},"gridWidth":{"condition":{"test":"indexof([0,100,1000,5000,20000,100000], datum.value) >= 0","value":0.9},"value":0.6}}},
      "y2":{"datum":0},
      "color":{"field":"c","type":"nominal","scale":{"domain":["T1w-images","T2w-images"],"range":["#4a6c89","#eea1ab"]},"legend":null}
     }},
    {"width":178,"height":77.5,"data":{"name":"MT"},"mark":{"type":"area","interpolate":"step","opacity":0.7},"view":{"stroke":"#9e9e9e","strokeWidth":1.2},
     "encoding":{
      "x":{"field":"x","type":"quantitative","scale":{"domain":[-16.3,16.3],"nice":false,"zero":false},"axis":{"values":[-15,-13.5,-12,-10.5,-9,-7.5,-6,-4.5,-3,-1.5,0,1.5,3,4.5,6,7.5,9,10.5,12,13.5,15],"labels":false,"ticks":false,"title":null,"grid":true,"gridColor":{"condition":{"test":"datum.value % 3 == 0","value":"#e6e6e6"},"value":"#f0f0f0"},"gridWidth":{"condition":{"test":"datum.value % 3 == 0","value":0.9},"value":0.6}}},
      "y":{"field":"n","type":"quantitative","stack":null,"scale":{"type":"symlog","constant":5,"domain":[-2.2,775000],"nice":false,"zero":false},"axis":{"values":[0,17.9,100,320,1000,2237,5000,10000,20000,44760,100000,223000],"labels":false,"ticks":false,"title":null,"grid":true,"gridColor":{"condition":{"test":"indexof([0,100,1000,5000,20000,100000], datum.value) >= 0","value":"#e6e6e6"},"value":"#f0f0f0"},"gridWidth":{"condition":{"test":"indexof([0,100,1000,5000,20000,100000], datum.value) >= 0","value":0.9},"value":0.6}}},
      "y2":{"datum":0},
      "color":{"field":"c","type":"nominal","scale":{"domain":["T1w-images","T2w-images"],"range":["#4a6c89","#eea1ab"]},"legend":null}
     }}
   ]},
  {"spacing":4,"resolve":{"scale":{"color":"independent"},"legend":{"color":"independent"}},
   "hconcat":[
    {"width":178,"height":77.5,"data":{"name":"HR"},"mark":{"type":"area","interpolate":"step","opacity":0.7},"view":{"stroke":"#9e9e9e","strokeWidth":1.2},
     "encoding":{
      "x":{"field":"x","type":"quantitative","scale":{"domain":[-16.3,16.3],"nice":false,"zero":false},"axis":{"values":[-15,-13.5,-12,-10.5,-9,-7.5,-6,-4.5,-3,-1.5,0,1.5,3,4.5,6,7.5,9,10.5,12,13.5,15],"labelExpr":"datum.value % 3 == 0 ? '' + datum.value : ''","tickOpacity":{"condition":{"test":"datum.value % 3 == 0","value":1},"value":0},"title":"Rotation (°)","titleFontSize":8.5,"titlePadding":5,"labelPadding":2,"grid":true,"gridColor":{"condition":{"test":"datum.value % 3 == 0","value":"#e6e6e6"},"value":"#f0f0f0"},"gridWidth":{"condition":{"test":"datum.value % 3 == 0","value":0.9},"value":0.6}}},
      "y":{"field":"n","type":"quantitative","stack":null,"scale":{"type":"symlog","constant":5,"domain":[-0.7,157000],"nice":false,"zero":false},"axis":{"values":[0,17.9,100,320,1000,2237,5000,10000,20000,44760,100000],"labelExpr":"datum.value==0?'0':datum.value==100?'100':datum.value==1000?'1k':datum.value==5000?'5k':datum.value==20000?'20k':datum.value==100000?'100k':''","tickOpacity":{"condition":{"test":"indexof([0,100,1000,5000,20000,100000], datum.value) >= 0","value":1},"value":0},"title":"High","titleFontSize":8.5,"titlePadding":2.5,"labelPadding":1,"grid":true,"gridColor":{"condition":{"test":"indexof([0,100,1000,5000,20000,100000], datum.value) >= 0","value":"#e6e6e6"},"value":"#f0f0f0"},"gridWidth":{"condition":{"test":"indexof([0,100,1000,5000,20000,100000], datum.value) >= 0","value":0.9},"value":0.6}}},
      "y2":{"datum":0},
      "color":{"field":"c","type":"nominal","scale":{"domain":["T1w-images","T2w-images"],"range":["#4a6c89","#eea1ab"]},"legend":null}
     }},
    {"width":178,"height":77.5,"data":{"name":"HT"},"mark":{"type":"area","interpolate":"step","opacity":0.7},"view":{"stroke":"#9e9e9e","strokeWidth":1.2},
     "encoding":{
      "x":{"field":"x","type":"quantitative","scale":{"domain":[-16.3,16.3],"nice":false,"zero":false},"axis":{"values":[-15,-13.5,-12,-10.5,-9,-7.5,-6,-4.5,-3,-1.5,0,1.5,3,4.5,6,7.5,9,10.5,12,13.5,15],"labelExpr":"datum.value % 3 == 0 ? '' + datum.value : ''","tickOpacity":{"condition":{"test":"datum.value % 3 == 0","value":1},"value":0},"title":"Translation (mm)","titleFontSize":8.5,"titlePadding":5,"labelPadding":2,"grid":true,"gridColor":{"condition":{"test":"datum.value % 3 == 0","value":"#e6e6e6"},"value":"#f0f0f0"},"gridWidth":{"condition":{"test":"datum.value % 3 == 0","value":0.9},"value":0.6}}},
      "y":{"field":"n","type":"quantitative","stack":null,"scale":{"type":"symlog","constant":5,"domain":[-0.7,157000],"nice":false,"zero":false},"axis":{"values":[0,17.9,100,320,1000,2237,5000,10000,20000,44760,100000],"labels":false,"ticks":false,"title":null,"grid":true,"gridColor":{"condition":{"test":"indexof([0,100,1000,5000,20000,100000], datum.value) >= 0","value":"#e6e6e6"},"value":"#f0f0f0"},"gridWidth":{"condition":{"test":"indexof([0,100,1000,5000,20000,100000], datum.value) >= 0","value":0.9},"value":0.6}}},
      "y2":{"datum":0},
      "color":{"field":"c","type":"nominal","scale":{"domain":["T1w-images","T2w-images"],"range":["#4a6c89","#eea1ab"]},"legend":null}
     }}
   ]}
 ]
 }]
}
]
}
